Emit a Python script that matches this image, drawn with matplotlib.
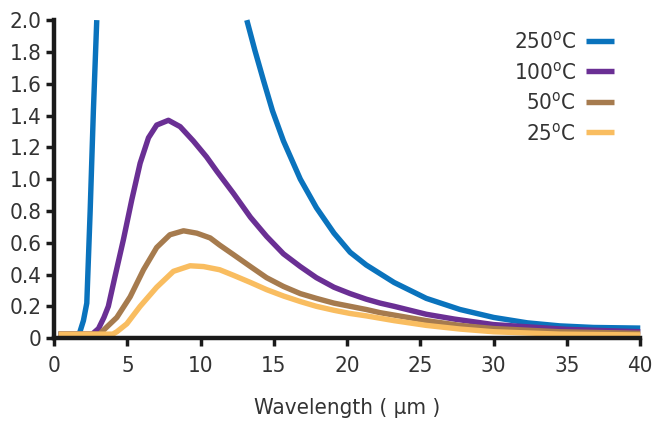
import matplotlib
matplotlib.use("Agg")
import numpy as np
import matplotlib.pyplot as plt

plt.rcParams['font.family'] = ['DejaVu Sans']
plt.rcParams['font.stretch'] = 'condensed'

# spectral radiance curves read per wavelength (um); None splits the 250 C curve
x_250 = [0.3, 1.5, 1.73, 2.0, 2.23, 2.46, 2.68, 2.91, None,
         13.15, 13.7, 14.29, 14.9, 15.65, 16.8, 17.9, 19.1, 20.2, 21.3, 22.25, 23.2,
         25.4, 27.7, 30.0, 32.3, 34.5, 36.8, 40.0]
y_250 = [0.025, 0.025, 0.03, 0.11, 0.22, 0.80, 1.43, 2.0, None,
         2.0, 1.81, 1.62, 1.43, 1.24, 1.0, 0.82, 0.66, 0.54, 0.46, 0.405, 0.35,
         0.25, 0.18, 0.13, 0.096, 0.077, 0.067, 0.063]

x_100 = [0.3, 2.6, 3.03, 3.4, 3.7, 4.16, 4.73, 5.3, 5.87, 6.44, 7.0, 7.8, 8.6, 9.5, 10.4,
         11.1, 12.24, 13.4, 14.5, 15.65, 16.8, 17.9, 19.1, 20.2, 21.3, 22.25, 23.2, 25.4,
         27.3, 30.0, 35.0, 40.0]
y_100 = [0.025, 0.025, 0.06, 0.13, 0.20, 0.39, 0.62, 0.87, 1.10, 1.26, 1.34, 1.37, 1.33, 1.24,
         1.14, 1.05, 0.91, 0.76, 0.64, 0.53, 0.45, 0.38, 0.32, 0.28, 0.245, 0.22, 0.20, 0.15,
         0.12, 0.085, 0.055, 0.04]

x_50 = [0.3, 3.1, 3.37, 4.28, 5.19, 6.1, 7.0, 7.9, 8.83, 9.74, 10.65, 11.3, 12.24, 13.4,
        14.5, 15.65, 16.8, 17.9, 19.1, 20.2, 21.3, 22.25, 23.2, 25.4, 27.7, 30.0, 34.5, 40.0]
y_50 = [0.025, 0.025, 0.05, 0.13, 0.26, 0.43, 0.57, 0.65, 0.675, 0.66, 0.63, 0.585, 0.525, 0.45,
        0.38, 0.325, 0.28, 0.25, 0.22, 0.20, 0.18, 0.16, 0.145, 0.11, 0.08, 0.06, 0.04, 0.03]

x_25 = [0.3, 4.0, 4.28, 4.96, 5.87, 7.0, 8.14, 9.28, 10.2, 11.3, 12.24, 13.4, 14.5, 15.65,
        16.8, 17.9, 19.1, 20.2, 21.3, 22.25, 23.2, 25.4, 27.7, 30.0, 34.5, 40.0]
y_25 = [0.025, 0.025, 0.04, 0.09, 0.20, 0.32, 0.42, 0.455, 0.45, 0.43, 0.395, 0.35, 0.305, 0.265,
        0.23, 0.20, 0.175, 0.155, 0.14, 0.125, 0.11, 0.08, 0.057, 0.04, 0.025, 0.02]

labels = ['250$^\\mathrm{o}$C', '100$^\\mathrm{o}$C', '50$^\\mathrm{o}$C', '25$^\\mathrm{o}$C']
colors = ['#0a73bd', '#6a2f94', '#a67b4e', '#f9bd60']

x_ticks = [0, 5, 10, 15, 20, 25, 30, 35, 40]
y_ticks = [0, 0.2, 0.4, 0.6, 0.8, 1.0, 1.2, 1.4, 1.6, 1.8, 2.0]
y_ticklabels = ['0', '0.2', '0.4', '0.6', '0.8', '1.0', '1.2', '1.4', '1.6', '1.8', '2.0']

fig = plt.figure(figsize=(6.52, 4.28), dpi=100)
ax = fig.add_axes([0.083, 0.21, 0.899, 0.743])

series = [(x_250, y_250), (x_100, y_100), (x_50, y_50), (x_25, y_25)]
handles = []
for (xs, ys), c, lab in zip(series, colors, labels):
    xs_f = np.array([np.nan if v is None else v for v in xs])
    ys_f = np.array([np.nan if v is None else v for v in ys])
    h, = ax.plot(xs_f, ys_f, color=c, lw=3.9, solid_capstyle='butt',
                 solid_joinstyle='round', label=lab, clip_on=False)
    handles.append(h)

ax.set_xlim(0, 40)
ax.set_ylim(0, 2.0)
ax.set_xticks(x_ticks)
ax.set_yticks(y_ticks)
ax.set_yticklabels(y_ticklabels)
ax.tick_params(labelsize=16, width=2.5, length=6, direction='out', colors='#1a1a1a',
               labelcolor='#333333')
ax.tick_params(axis='x', pad=7)
ax.tick_params(axis='y', pad=3)
for side in ['top', 'right']:
    ax.spines[side].set_visible(False)
for side in ['left', 'bottom']:
    ax.spines[side].set_linewidth(3.2)
    ax.spines[side].set_color('#1a1a1a')

ax.set_xlabel('Wavelength ( \u00b5m )', fontsize=16, color='#333333', labelpad=16)

leg = ax.legend(handles=handles, loc='upper right', bbox_to_anchor=(0.97, 0.995),
                frameon=False, markerfirst=False, fontsize=16, handlelength=1.25,
                handletextpad=0.45, labelspacing=0.38, borderaxespad=0)
for t in leg.get_texts():
    t.set_color('#333333')

fig.savefig('out.png', dpi=100)
